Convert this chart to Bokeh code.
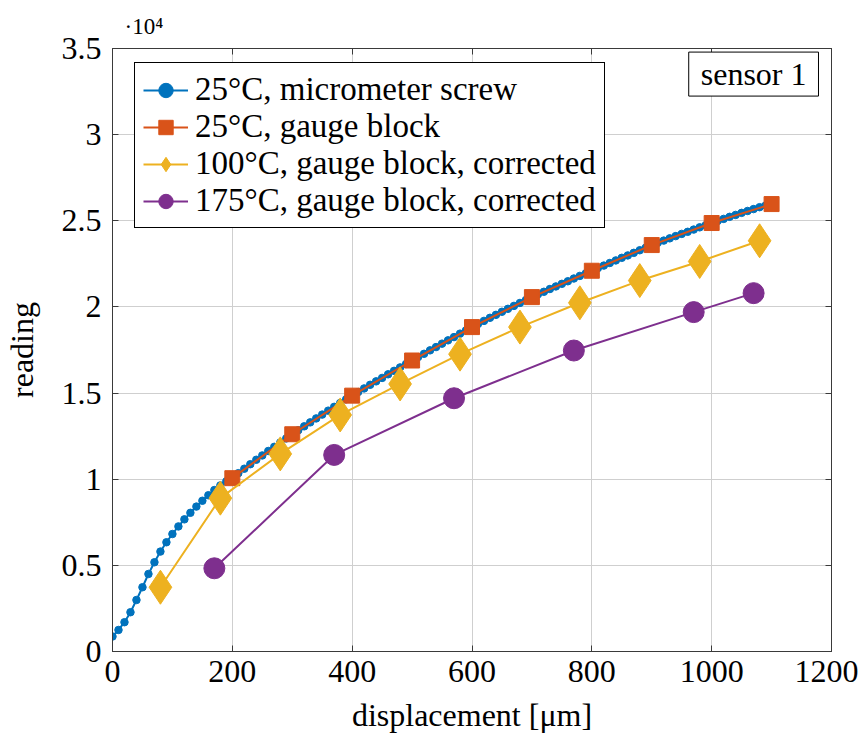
from bokeh.plotting import figure
from bokeh.models import Legend, LegendItem, Label, FixedTicker, LinearAxis, Range1d, Title
from bokeh.embed import file_html
from bokeh.resources import INLINE

# ---------------- data ----------------
screw_x = [0, 10, 20, 30, 40, 50, 60, 70, 80, 90,
           100, 110, 120, 130, 140, 150, 160, 170, 180, 190,
           200, 210, 220, 230, 240, 250, 260, 270, 280, 290,
           300, 310, 320, 330, 340, 350, 360, 370, 380, 390,
           400, 410, 420, 430, 440, 450, 460, 470, 480, 490,
           500, 510, 520, 530, 540, 550, 560, 570, 580, 590,
           600, 610, 620, 630, 640, 650, 660, 670, 680, 690,
           700, 710, 720, 730, 740, 750, 760, 770, 780, 790,
           800, 810, 820, 830, 840, 850, 860, 870, 880, 890,
           900, 910, 920, 930, 940, 950, 960, 970, 980, 990,
           1000, 1010, 1020, 1030, 1040, 1050, 1060, 1070, 1080, 1090]
screw_y = [870, 1250, 1700, 2280, 2990, 3730, 4500, 5180, 5800, 6340,
           6820, 7260, 7670, 8050, 8410, 8750, 9070, 9370, 9640, 9880,
           10090, 10350, 10610, 10870, 11130, 11380, 11640, 11880, 12130, 12370,
           12610, 12840, 13070, 13300, 13530, 13750, 13980, 14200, 14420, 14640,
           14850, 15060, 15270, 15480, 15680, 15880, 16090, 16290, 16490, 16690,
           16890, 17090, 17280, 17480, 17670, 17870, 18060, 18250, 18450, 18640,
           18830, 19010, 19190, 19370, 19540, 19720, 19890, 20060, 20230, 20400,
           20570, 20730, 20880, 21040, 21190, 21340, 21490, 21650, 21800, 21950,
           22100, 22250, 22400, 22550, 22700, 22850, 22990, 23140, 23290, 23440,
           23590, 23720, 23850, 23980, 24110, 24240, 24360, 24490, 24620, 24740,
           24870, 24990, 25110, 25230, 25340, 25460, 25570, 25680, 25790, 25890]

gauge25_x = [200, 300, 400, 500, 600, 700, 800, 900, 1000, 1100]
gauge25_y = [10060, 12610, 14850, 16890, 18830, 20570, 22100, 23590, 24870, 25970]

gauge100_x = [80, 180, 280, 380, 480, 580, 680, 780, 880, 980, 1080]
gauge100_y = [3730, 8900, 11470, 13730, 15530, 17260, 18830, 20240, 21530, 22640, 23840]

gauge175_x = [170, 370, 570, 770, 970, 1070]
gauge175_y = [4830, 11410, 14700, 17470, 19700, 20800]

labels = ["25°C, micrometer screw", "25°C, gauge block",
          "100°C, gauge block, corrected", "175°C, gauge block, corrected"]

x_ticks = [0, 200, 400, 600, 800, 1000, 1200]
y_ticks = [0, 5000, 10000, 15000, 20000, 25000, 30000, 35000]
y_tick_labels = ["0", "0.5", "1", "1.5", "2", "2.5", "3", "3.5"]
y_scale_text = "·10⁴"

# ---------------- style ----------------
BLUE = "#0072BD"
RED = "#D95319"
YEL = "#EDB120"
PUR = "#7E2F8E"
FONT = "Liberation Serif"
FS = "32px"
AXC = "#3a3a3a"

p = figure(frame_width=719, frame_height=603,
           x_range=Range1d(0, 1200), y_range=Range1d(0, 35000),
           output_backend="svg", toolbar_location=None,
           min_border_left=103, min_border_right=27,
           min_border_top=48, min_border_bottom=84)
p.background_fill_color = "white"
p.border_fill_color = "white"
p.outline_line_color = AXC
p.outline_line_width = 1

for ax in (p.xaxis[0], p.yaxis[0]):
    ax.major_label_text_font = FONT
    ax.major_label_text_font_size = FS
    ax.axis_label_text_font = FONT
    ax.axis_label_text_font_size = FS
    ax.axis_label_text_font_style = "normal"
    ax.major_tick_in = 6
    ax.major_tick_out = 0
    ax.minor_tick_line_color = None
    ax.axis_line_color = AXC
    ax.major_tick_line_color = AXC
    ax.major_label_text_color = "black"
    ax.axis_label_text_color = "black"

p.xaxis[0].ticker = FixedTicker(ticks=x_ticks)
p.yaxis[0].ticker = FixedTicker(ticks=y_ticks)
p.yaxis[0].major_label_overrides = {t: l for t, l in zip(y_ticks, y_tick_labels)}
p.xaxis[0].axis_label = "displacement [μm]"
p.yaxis[0].axis_label = "reading"
p.xaxis[0].major_label_standoff = 9
p.yaxis[0].major_label_standoff = 11
p.xaxis[0].axis_label_standoff = 12
p.yaxis[0].axis_label_standoff = 19

# mirrored tick marks (right, top) without labels
for loc, tk in (("right", y_ticks), ("above", x_ticks)):
    ax = LinearAxis(ticker=FixedTicker(ticks=tk))
    ax.major_label_overrides = {t: "" for t in tk}
    ax.major_label_text_color = None
    ax.major_label_standoff = 0
    ax.major_tick_in = 6
    ax.major_tick_out = 0
    ax.minor_tick_line_color = None
    ax.axis_line_color = AXC
    ax.major_tick_line_color = AXC
    p.add_layout(ax, loc)

# exponent of the y axis, as a title at the top left
scale_title = Title(text=y_scale_text, align="left", offset=12,
                    text_font=FONT, text_font_size="23px",
                    text_font_style="normal", text_color="black", standoff=20)
p.add_layout(scale_title, "above")

p.xgrid.ticker = FixedTicker(ticks=x_ticks)
p.ygrid.ticker = FixedTicker(ticks=y_ticks)
p.xgrid.grid_line_color = "#cfcfcf"
p.ygrid.grid_line_color = "#cfcfcf"
p.xgrid.grid_line_width = 1
p.ygrid.grid_line_width = 1

# ---------------- series ----------------
l1 = p.line(screw_x, screw_y, line_color=BLUE, line_width=2)
m1 = p.scatter(screw_x, screw_y, marker="circle", size=7.5, fill_color=BLUE, line_color=BLUE)

l2 = p.line(gauge25_x, gauge25_y, line_color=RED, line_width=2)
m2 = p.scatter(gauge25_x, gauge25_y, marker="square", size=15, fill_color=RED, line_color=RED)

l3 = p.line(gauge100_x, gauge100_y, line_color=YEL, line_width=2)
m3 = p.scatter(gauge100_x, gauge100_y, marker="diamond", size=34, fill_color=YEL, line_color=YEL)

l4 = p.line(gauge175_x, gauge175_y, line_color=PUR, line_width=2)
m4 = p.scatter(gauge175_x, gauge175_y, marker="circle", size=21, fill_color=PUR, line_color=PUR)

legend = Legend(items=[LegendItem(label=labels[0], renderers=[l1, m1]),
                       LegendItem(label=labels[1], renderers=[l2, m2]),
                       LegendItem(label=labels[2], renderers=[l3, m3]),
                       LegendItem(label=labels[3], renderers=[l4, m4])],
                location=(22, 423))
legend.label_text_font = FONT
legend.label_text_font_size = "33px"
legend.label_text_color = "black"
legend.padding = 8
legend.spacing = 0
legend.glyph_height = 36
legend.glyph_width = 45
legend.label_height = 36
legend.label_standoff = 7
legend.border_line_color = "black"
legend.border_line_width = 1
legend.border_line_alpha = 1
legend.background_fill_alpha = 1
legend.margin = 0
p.add_layout(legend, "center")

# sensor label box
sensor = Label(x=1070, y=33515, text="sensor 1", text_align="center",
               text_baseline="middle", text_font=FONT, text_font_size=FS,
               text_color="black",
               border_line_color="black", border_line_width=1,
               background_fill_color="white", padding=(12, 4))
p.add_layout(sensor)

open("out.html", "w").write(file_html(p, INLINE))
